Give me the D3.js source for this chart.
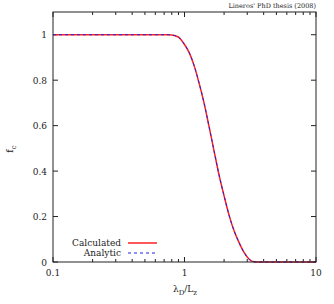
<!DOCTYPE html>
<html><head><meta charset="utf-8">
<script src="https://cdn.jsdelivr.net/npm/d3@7"></script>
<style>body{margin:0;background:#fff}svg{display:block}text{font-family:"DejaVu Serif",serif;fill:#222}</style>
</head><body><svg id="c" width="334" height="304"></svg>
<script>
const xVals      = [0.1, 0.3, 0.6, 0.76, 0.835, 0.911, 0.978, 1.086, 1.185, 1.294, 1.412, 1.542, 1.682, 1.836, 2.004, 2.187, 2.387, 2.606, 2.844, 3.104, 3.388, 3.7, 5, 10];
const calculated = [1, 1, 1, 1, 0.997, 0.987, 0.965, 0.921, 0.863, 0.785, 0.697, 0.592, 0.486, 0.380, 0.289, 0.204, 0.136, 0.084, 0.041, 0.012, 0.001, 0, 0, 0];
const analytic   = [1, 1, 1, 1, 0.997, 0.987, 0.965, 0.921, 0.863, 0.785, 0.697, 0.592, 0.486, 0.380, 0.289, 0.204, 0.136, 0.084, 0.041, 0.012, 0.001, 0, 0, 0];
const yTicks = [0, 0.2, 0.4, 0.6, 0.8, 1];
const xMajor = [0.1, 1, 10];
const xTickLabels = ["0.1", "1", "10"];
const seriesNames = ["Calculated", "Analytic"];
const credit = "Lineros' PhD thesis (2008)";

const svg = d3.select("#c");
const L = 53, R = 316, T = 12, B = 262;
const x = d3.scaleLog().domain([0.1, 10]).range([L, R]);
const y = d3.scaleLinear().domain([0, 1.1]).range([B, T]);

const xMinor = [];
[0.1, 1].forEach(d => { for (let k = 2; k <= 9; k++) xMinor.push(d * k); });

const g = svg.append("g").attr("stroke", "#222").attr("stroke-width", 1);
xMinor.forEach(v => {
  g.append("line").attr("x1", x(v)).attr("x2", x(v)).attr("y1", B).attr("y2", B - 3);
  g.append("line").attr("x1", x(v)).attr("x2", x(v)).attr("y1", T).attr("y2", T + 3);
});
xMajor.forEach(v => {
  g.append("line").attr("x1", x(v)).attr("x2", x(v)).attr("y1", B).attr("y2", B - 5);
  g.append("line").attr("x1", x(v)).attr("x2", x(v)).attr("y1", T).attr("y2", T + 5);
});
yTicks.forEach(v => {
  g.append("line").attr("x1", L).attr("x2", L + 5).attr("y1", y(v)).attr("y2", y(v));
  g.append("line").attr("x1", R).attr("x2", R - 5).attr("y1", y(v)).attr("y2", y(v));
});

svg.selectAll(".yl").data(yTicks).enter().append("text")
  .attr("x", L - 6).attr("y", d => y(d) + 3.5).attr("text-anchor", "end")
  .attr("font-size", 9).text(d => d === 0 ? "0" : d === 1 ? "1" : d3.format(".1f")(d));
svg.selectAll(".xl").data(xMajor).enter().append("text")
  .attr("x", d => x(d)).attr("y", B + 14).attr("text-anchor", "middle")
  .attr("font-size", 9).text((d, i) => xTickLabels[i]);

const line = d3.line().x((d, i) => x(xVals[i])).y(d => y(d)).curve(d3.curveMonotoneX);
svg.append("path").attr("d", line(calculated)).attr("fill", "none")
  .attr("stroke", "#ff2020").attr("stroke-width", 1.5);
svg.append("path").attr("d", line(analytic)).attr("fill", "none")
  .attr("stroke", "#2020e0").attr("stroke-width", 1).attr("stroke-dasharray", "3,3");

svg.append("rect").attr("x", L).attr("y", T).attr("width", R - L).attr("height", B - T)
  .attr("fill", "none").attr("stroke", "#222").attr("stroke-width", 1);

svg.append("text").attr("x", 121).attr("y", 246).attr("text-anchor", "end").attr("font-size", 9).text(seriesNames[0]);
svg.append("line").attr("x1", 128).attr("x2", 157).attr("y1", 243).attr("y2", 243).attr("stroke", "#ff2020").attr("stroke-width", 1.5);
svg.append("text").attr("x", 121).attr("y", 256).attr("text-anchor", "end").attr("font-size", 9).text(seriesNames[1]);
svg.append("line").attr("x1", 128).attr("x2", 155).attr("y1", 253).attr("y2", 253).attr("stroke", "#2020e0").attr("stroke-width", 1).attr("stroke-dasharray", "3,3");

const xt = svg.append("text").attr("x", 185).attr("y", 292).attr("text-anchor", "middle").attr("font-size", 9);
xt.append("tspan").text("λ");
xt.append("tspan").attr("font-size", 7).attr("dy", 2.5).text("D");
xt.append("tspan").attr("dy", -2.5).text("/L");
xt.append("tspan").attr("font-size", 7).attr("dy", 2.5).text("z");
const yt = svg.append("text").attr("transform", "translate(13,149) rotate(-90)").attr("text-anchor", "middle").attr("font-size", 9);
yt.append("tspan").text("f");
yt.append("tspan").attr("font-size", 7).attr("dy", 2.5).text("c");

svg.append("text").attr("x", 316).attr("y", 8).attr("text-anchor", "end").attr("font-size", 6.5).text(credit);
</script></body></html>
